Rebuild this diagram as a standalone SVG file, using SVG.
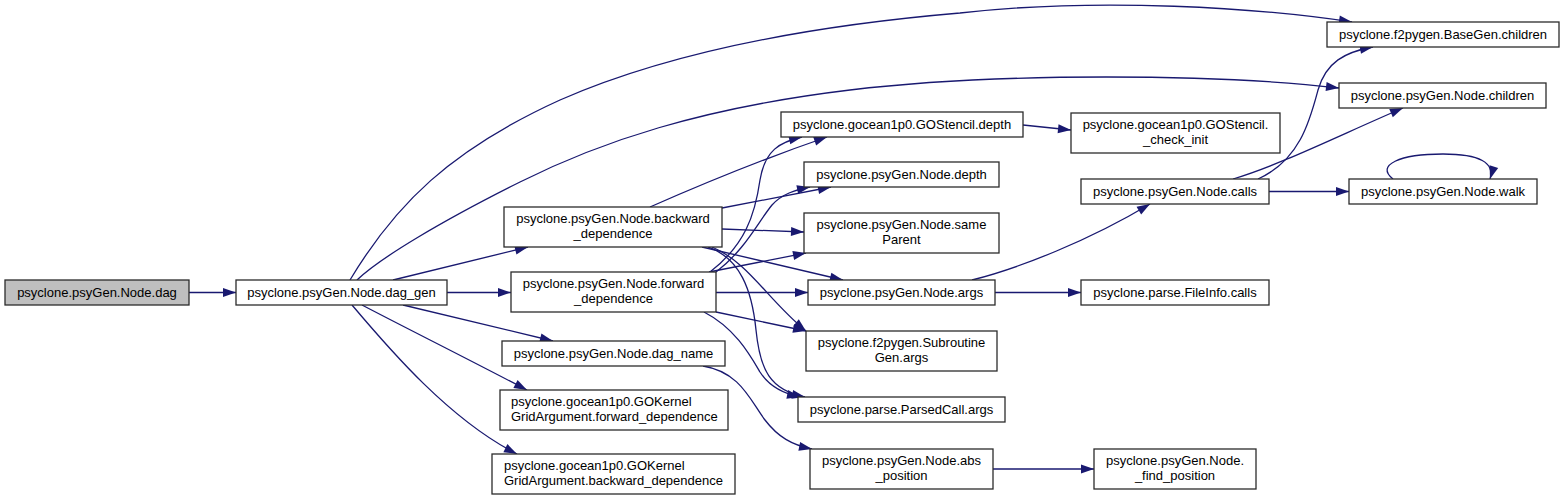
<svg xmlns="http://www.w3.org/2000/svg" width="1564" height="501" viewBox="0 0 1564 501">
<style>
.node rect{fill:#ffffff;stroke:#2b2b2b;stroke-width:1.3}
.node.root rect{fill:#bfbfbf}
.node text{font-family:"Liberation Sans",Arial,sans-serif;font-size:13px;fill:#000;text-anchor:middle}
.node text.l{text-anchor:start}
.edges path{fill:none;stroke:#191970;stroke-width:1.3;marker-end:url(#arr)}
</style>
<defs>
<marker id="arr" markerWidth="13" markerHeight="9" refX="13" refY="4.5" orient="auto" markerUnits="userSpaceOnUse" overflow="visible">
<path d="M0,0 L13,4.5 L0,9 z" fill="#191970"/>
</marker>
</defs>
<rect width="1564" height="501" fill="#ffffff"/>
<g class="edges" id="connectors">
<path d="M189,292.5 L236,292.5"/>
<path d="M350,280 C395,205 450,150 560,100 C640,65 760,30 960,13 C1100,-3 1260,8 1352,22"/>
<path d="M357,280 C380,258 440,222 520,182 C600,142 700,108 850,90 C1000,72 1220,74 1339,88"/>
<path d="M393,280 L528,247"/>
<path d="M447,292.5 L511,292.5"/>
<path d="M403,305 L553,341"/>
<path d="M362,305 C400,325 470,360 527,390"/>
<path d="M352,305 C390,350 450,420 517,454"/>
<path d="M650,207 C700,185 760,160 827,137"/>
<path d="M722,208 L831,187"/>
<path d="M722,229 L804,232"/>
<path d="M702,247 L843,280"/>
<path d="M712,247 C748,262 768,300 806,331"/>
<path d="M708,247 C740,258 752,290 756,330 C760,370 770,390 805,397"/>
<path d="M710,272 C745,245 755,215 760,180 C765,150 780,142 802,137"/>
<path d="M716,272 C745,250 758,222 772,205 C782,194 795,190 810,187"/>
<path d="M709,272 L806,253"/>
<path d="M716,292.5 L808,292.5"/>
<path d="M716,312 L806,331"/>
<path d="M704,312 C735,328 750,355 760,372 C770,388 785,394 800,397"/>
<path d="M703,366 C740,372 750,400 765,420 C778,437 792,445 812,449"/>
<path d="M1023,125 L1071,130"/>
<path d="M972,280 C1020,268 1090,240 1150,204"/>
<path d="M995,292.5 L1081,292.5"/>
<path d="M1258,179 C1300,160 1310,120 1318,90 C1326,62 1345,52 1373,47"/>
<path d="M1233,179 C1280,165 1340,135 1403,108"/>
<path d="M1269,191.5 L1349,191.5"/>
<path d="M1393,179 C1375,165 1400,154 1443,154 C1480,154 1495,163 1490,179"/>
<path d="M993,469 L1094,469"/>
</g>
<g class="node root" id="n_dag"><rect x="5" y="280" width="184" height="25"/><text x="97" y="296.5">psyclone.psyGen.Node.dag</text></g>
<g class="node" id="n_dag_gen"><rect x="236" y="280" width="211" height="25"/><text x="341.5" y="296.5">psyclone.psyGen.Node.dag_gen</text></g>
<g class="node" id="n_backward_dependence"><rect x="504" y="207" width="218" height="40"/><text x="613" y="223">psyclone.psyGen.Node.backward</text><text x="613" y="238">_dependence</text></g>
<g class="node" id="n_forward_dependence"><rect x="511" y="272" width="205" height="40"/><text x="613.5" y="288">psyclone.psyGen.Node.forward</text><text x="613.5" y="303">_dependence</text></g>
<g class="node" id="n_dag_name"><rect x="502" y="341" width="223" height="25"/><text x="613.5" y="357.5">psyclone.psyGen.Node.dag_name</text></g>
<g class="node" id="n_gok_forward"><rect x="500" y="390" width="228" height="40"/><text class="l" x="511" y="406">psyclone.gocean1p0.GOKernel</text><text class="l" x="511" y="421">GridArgument.forward_dependence</text></g>
<g class="node" id="n_gok_backward"><rect x="492" y="454" width="243" height="40"/><text class="l" x="504" y="470">psyclone.gocean1p0.GOKernel</text><text class="l" x="504" y="485">GridArgument.backward_dependence</text></g>
<g class="node" id="n_gostencil_depth"><rect x="781" y="112" width="242" height="25"/><text x="902" y="128.5">psyclone.gocean1p0.GOStencil.depth</text></g>
<g class="node" id="n_node_depth"><rect x="804" y="162" width="195" height="25"/><text x="901.5" y="178.5">psyclone.psyGen.Node.depth</text></g>
<g class="node" id="n_same_parent"><rect x="804" y="213" width="195" height="40"/><text x="901.5" y="229">psyclone.psyGen.Node.same</text><text x="901.5" y="244">Parent</text></g>
<g class="node" id="n_node_args"><rect x="808" y="280" width="187" height="25"/><text x="901.5" y="296.5">psyclone.psyGen.Node.args</text></g>
<g class="node" id="n_subroutine_args"><rect x="806" y="331" width="191" height="40"/><text x="901.5" y="347">psyclone.f2pygen.Subroutine</text><text x="901.5" y="362">Gen.args</text></g>
<g class="node" id="n_parsedcall_args"><rect x="798" y="397" width="207" height="25"/><text x="901.5" y="413.5">psyclone.parse.ParsedCall.args</text></g>
<g class="node" id="n_abs_position"><rect x="810" y="449" width="183" height="40"/><text x="901.5" y="465">psyclone.psyGen.Node.abs</text><text x="901.5" y="480">_position</text></g>
<g class="node" id="n_check_init"><rect x="1071" y="113" width="209" height="40"/><text x="1175.5" y="129">psyclone.gocean1p0.GOStencil.</text><text x="1175.5" y="144">_check_init</text></g>
<g class="node" id="n_node_calls"><rect x="1081" y="179" width="188" height="25"/><text x="1175" y="195.5">psyclone.psyGen.Node.calls</text></g>
<g class="node" id="n_fileinfo_calls"><rect x="1081" y="280" width="188" height="25"/><text x="1175" y="296.5">psyclone.parse.FileInfo.calls</text></g>
<g class="node" id="n_find_position"><rect x="1094" y="449" width="162" height="40"/><text x="1175" y="465">psyclone.psyGen.Node.</text><text x="1175" y="480">_find_position</text></g>
<g class="node" id="n_basegen_children"><rect x="1327" y="22" width="232" height="25"/><text x="1443" y="38.5">psyclone.f2pygen.BaseGen.children</text></g>
<g class="node" id="n_node_children"><rect x="1339" y="83" width="207" height="25"/><text x="1442.5" y="99.5">psyclone.psyGen.Node.children</text></g>
<g class="node" id="n_node_walk"><rect x="1349" y="179" width="188" height="25"/><text x="1443" y="195.5">psyclone.psyGen.Node.walk</text></g>
</svg>
